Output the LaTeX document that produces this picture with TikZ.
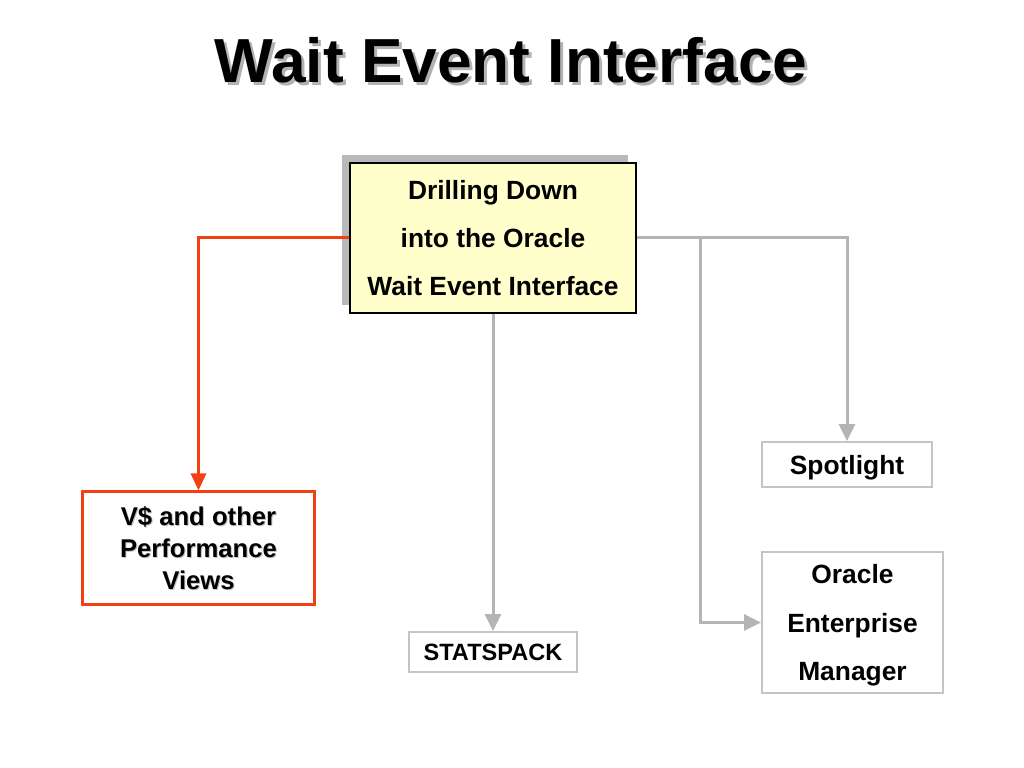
\documentclass[tikz,border=0pt]{standalone}
\usepackage{fontspec}
\setmainfont{Liberation Sans}
\usetikzlibrary{arrows.meta,shadows}
\definecolor{boxyellow}{RGB}{255,255,204}
\definecolor{linkred}{RGB}{242,64,20}
\definecolor{linkgray}{RGB}{180,180,180}
\definecolor{framegray}{RGB}{196,196,196}
\begin{document}
\begin{tikzpicture}[x=0.01cm, y=-0.01cm,
	tool/.style={draw=framegray, line width=0.5pt, align=center, text depth=0pt, font=\bfseries\fontsize{7.5}{13.7}\selectfont},
	grayline/.style={linkgray, line width=0.85pt, -{Triangle[length=1.7mm, width=1.6mm]}},
	redline/.style={linkred, line width=0.85pt, -{Triangle[length=1.7mm, width=1.5mm]}}]
\useasboundingbox (0,0) rectangle (1024,768);

\node[gray!60, font=\bfseries\fontsize{17.7}{20}\selectfont] (titleshade) at (514,63) {Wait Event Interface};
\node[font=\bfseries\fontsize{17.7}{20}\selectfont] (title) at (511,60) {Wait Event Interface};

\node[draw, fill=boxyellow, line width=0.4pt, minimum width=2.86cm, minimum height=1.5cm, align=center,
	font=\bfseries\fontsize{7.5}{13.7}\selectfont,
	drop shadow={shadow xshift=-0.08cm, shadow yshift=0.08cm, fill=gray!55, opacity=1}]
	(main) at (493,238) {Drilling Down\\into the Oracle\\Wait Event Interface};

\node[draw=linkred, line width=0.85pt, minimum width=2.31cm, minimum height=1.12cm] (views) at (198.5,548) {};
\node[gray!50, align=center, font=\bfseries\fontsize{7.3}{9.1}\selectfont] (viewsshade) at (199.5,549) {V\$ and other\\Performance\\Views};
\node[align=center, font=\bfseries\fontsize{7.3}{9.1}\selectfont] (viewstext) at (198.5,548) {V\$ and other\\Performance\\Views};

\node[tool, minimum width=1.68cm, minimum height=0.4cm, font=\bfseries\fontsize{6.7}{8}\selectfont] (stats) at (493,652) {STATSPACK};
\node[tool, minimum width=1.7cm, minimum height=0.45cm] (spot) at (847,464.5) {Spotlight};
\node[tool, minimum width=1.81cm, minimum height=1.41cm] (oem) at (852.5,622.5) {Oracle\\Enterprise\\Manager};

\coordinate (fork) at (700,238);

\draw[redline] (main.west) -| (views.north);
\draw[grayline] (main.south) -- (stats.north);
\draw[grayline] (main.east) -| (spot.north);
\draw[grayline] (fork) |- (oem.west);
\end{tikzpicture}
\end{document}
